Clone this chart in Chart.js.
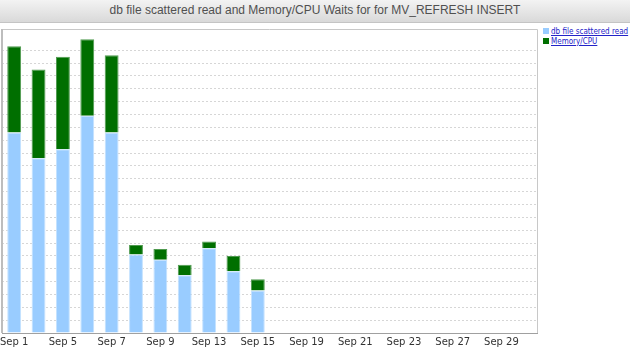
<!DOCTYPE html>
<html>
<head>
<meta charset="utf-8">
<script src="https://cdn.jsdelivr.net/npm/chart.js@4"></script>
<style>
  html, body { margin: 0; padding: 0; background: #fff; }
  body { width: 630px; height: 347px; position: relative; overflow: hidden; font-family: "Liberation Sans", Arial, sans-serif; }
  #title {
    position: absolute; left: 0; top: 0; width: 630px; height: 22px;
    background: linear-gradient(#f3f3f3, #d9d9d9);
    border-bottom: 1px solid #c4c4c4;
    text-align: center; font-size: 12px; line-height: 20px; color: #505050;
  }
  #wrap { position: absolute; left: 0; top: 22px; width: 541px; height: 325px; }
  #legend { position: absolute; left: 543px; top: 27px; font-family: "DejaVu Sans Condensed", "DejaVu Sans", sans-serif; font-stretch: condensed; font-size: 8px; line-height: 10px; }
  #legend div { white-space: nowrap; }
  #legend i { display: inline-block; width: 6px; height: 6px; margin-right: 2px; vertical-align: 0px; }
  #legend span { color: #2323c8; text-decoration: underline; }
</style>
</head>
<body>
<div id="title">db file scattered read and Memory/CPU Waits for for MV_REFRESH INSERT</div>
<div id="wrap"><canvas id="chart"></canvas></div>
<div id="legend"></div>
<script>
// dny v září (popisek jen u každého druhého)
const categories = ['Sep 1', 'Sep 4', 'Sep 5', 'Sep 6', 'Sep 7', 'Sep 8', 'Sep 9', 'Sep 12', 'Sep 13', 'Sep 14', 'Sep 15',
  'Sep 16', 'Sep 19', 'Sep 20', 'Sep 21', 'Sep 22', 'Sep 23', 'Sep 26', 'Sep 27', 'Sep 28', 'Sep 29', 'Sep 30'];
const scatteredRead = [15.6, 13.6, 14.3, 16.9, 15.6, 6.1, 5.7, 4.5, 6.6, 4.8, 3.3,
  null, null, null, null, null, null, null, null, null, null, null];
const memoryCpu = [6.7, 6.9, 7.2, 5.95, 6.0, 0.75, 0.83, 0.81, 0.52, 1.19, 0.89,
  null, null, null, null, null, null, null, null, null, null, null];
const seriesNames = ['db file scattered read', 'Memory/CPU'];
const seriesColors = ['#99ccff', '#006f00'];
const seriesBorders = ['#c4e2ff', '#4f9a4f'];

document.getElementById('legend').innerHTML = seriesNames.map((n, i) =>
  '<div><i style="background:' + seriesColors[i] + '"></i><span>' + n + '</span></div>').join('');

// rámeček kolem plochy grafu
const frame = {
  id: 'frame',
  afterDraw(chart) {
    const { ctx, chartArea: a } = chart;
    ctx.save();
    ctx.strokeStyle = '#c8c8c8';
    ctx.lineWidth = 1;
    ctx.beginPath();
    ctx.moveTo(a.left, a.top + 0.5); ctx.lineTo(a.right - 0.5, a.top + 0.5); ctx.lineTo(a.right - 0.5, a.bottom);
    ctx.stroke();
    ctx.strokeStyle = '#bdbdbd';
    ctx.lineWidth = 2;
    ctx.beginPath();
    ctx.moveTo(a.left, a.top); ctx.lineTo(a.left, a.bottom);
    ctx.stroke();
    ctx.strokeStyle = '#a0a0a0';
    ctx.lineWidth = 1;
    ctx.beginPath();
    ctx.moveTo(a.left, a.bottom + 0.5); ctx.lineTo(a.right, a.bottom + 0.5);
    ctx.stroke();
    ctx.restore();
  },
};

new Chart(document.getElementById('chart'), {
  type: 'bar',
  data: {
    labels: categories,
    datasets: [{
      label: seriesNames[0],
      data: scatteredRead,
      backgroundColor: seriesColors[0],
      borderColor: seriesBorders[0],
      borderWidth: 1,
    }, {
      label: seriesNames[1],
      data: memoryCpu,
      backgroundColor: seriesColors[1],
      borderColor: seriesBorders[1],
      borderWidth: 1,
    }],
  },
  options: {
    responsive: true,
    maintainAspectRatio: false,
    animation: false,
    datasets: { bar: { barPercentage: 0.57, categoryPercentage: 1 } },
    layout: { padding: { top: 7, left: 2, right: 3, bottom: 0 } },
    plugins: { legend: { display: false }, tooltip: { enabled: false } },
    scales: {
      x: {
        stacked: true,
        grid: { display: false, drawTicks: false },
        border: { display: false },
        ticks: {
          autoSkip: false, maxRotation: 0, padding: 3, color: '#333',
          font: { size: 10, family: '"DejaVu Sans", Verdana, sans-serif' },
          callback: (v, i) => (i % 2 === 0 ? categories[i] : ''),
        },
        afterFit: (s) => { s.height = 14; s.paddingLeft = 0; s.paddingRight = 0; },
      },
      y: {
        stacked: true,
        min: 0, max: 23.65,
        ticks: { display: false, stepSize: 1 },
        grid: { color: '#d6d6d6', drawTicks: false },
        border: { display: false, dash: [2, 2] },
        afterFit: (s) => { s.width = 0; },
      },
    },
  },
  plugins: [frame],
});
</script>
</body>
</html>
